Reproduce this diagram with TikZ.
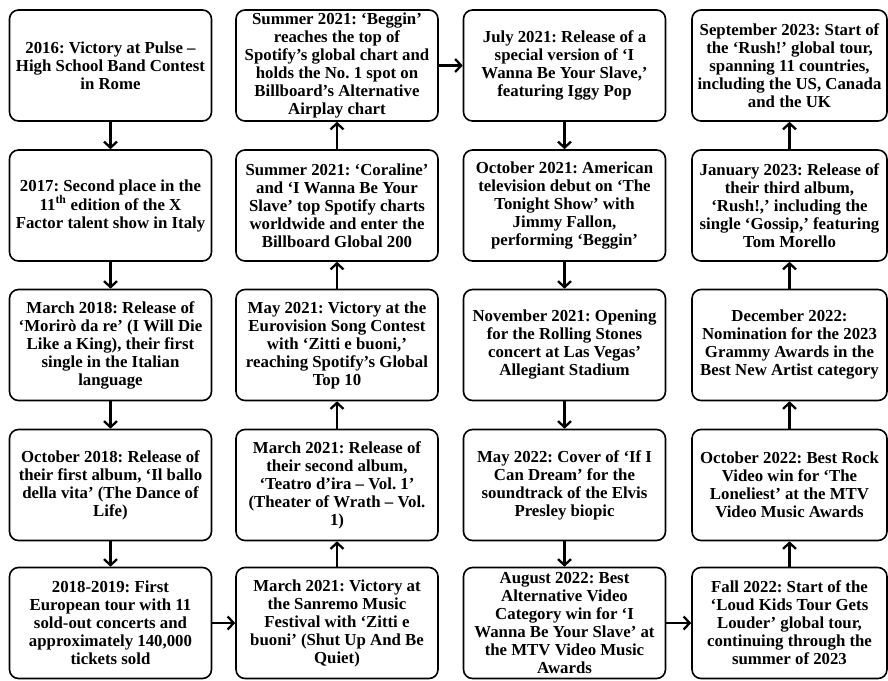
\documentclass[tikz,border=0pt]{standalone}
\usepackage{fontspec}
\setmainfont{Liberation Serif}
\usetikzlibrary{arrows.meta}
\frenchspacing

\begin{document}
\begin{tikzpicture}[x=1pt, y=-1pt, >={Straight Barb[length=6pt,width=13pt]}]
\useasboundingbox (0,0) rectangle (888,680);
\begin{scope}[every node/.style={draw, rounded corners=9pt, line width=1.6pt,
    minimum width=202pt, minimum height=111pt, inner sep=1pt, align=center,
    font=\bfseries\fontsize{16.8}{18}\selectfont}]
    % first column, going down
    \node (1) at (110.5,65.5) {2016: Victory at Pulse --\\High School Band Contest\\in Rome};
    \node (2) at (110.5,205.5) {2017: Second place in the\\11\textsuperscript{th} edition of the X\\Factor talent show in Italy};
    \node (3) at (110.5,345) {March 2018: Release of\\‘Morirò da re’ (I Will Die\\Like a King), their first\\single in the Italian\\language};
    \node (4) at (110.5,485) {October 2018: Release of\\their first album, ‘Il ballo\\della vita’ (The Dance of\\Life)};
    \node (5) at (110.5,623) {2018-2019: First\\European tour with 11\\sold-out concerts and\\approximately 140,000\\tickets sold};
    % second column, going up
    \node (6) at (337,623) {March 2021: Victory at\\the Sanremo Music\\Festival with ‘Zitti e\\buoni’ (Shut Up And Be\\Quiet)};
    \node (7) at (337,485) {March 2021: Release of\\their second album,\\‘Teatro d’ira -- Vol. 1’\\(Theater of Wrath -- Vol.\\1)};
    \node (8) at (337,345) {May 2021: Victory at the\\Eurovision Song Contest\\with ‘Zitti e buoni,’\\reaching Spotify’s Global\\Top 10};
    \node (9) at (337,205.5) {Summer 2021: ‘Coraline’\\and ‘I Wanna Be Your\\Slave’ top Spotify charts\\worldwide and enter the\\Billboard Global 200};
    \node (10) at (337,65.5) {Summer 2021: ‘Beggin’\\reaches the top of\\Spotify’s global chart and\\holds the No. 1 spot on\\Billboard’s Alternative\\Airplay chart};
    % third column, going down
    \node (11) at (564.5,65.5) {July 2021: Release of a\\special version of ‘I\\Wanna Be Your Slave,’\\featuring Iggy Pop};
    \node (12) at (564.5,205.5) {October 2021: American\\television debut on ‘The\\Tonight Show’ with\\Jimmy Fallon,\\performing ‘Beggin’};
    \node (13) at (564.5,345) {November 2021: Opening\\for the Rolling Stones\\concert at Las Vegas’\\Allegiant Stadium};
    \node (14) at (564.5,485) {May 2022: Cover of ‘If I\\Can Dream’ for the\\soundtrack of the Elvis\\Presley biopic};
    \node (15) at (564.5,623) {August 2022: Best\\Alternative Video\\Category win for ‘I\\Wanna Be Your Slave’ at\\the MTV Video Music\\Awards};
    % fourth column, going up
    \begin{scope}[every node/.append style={minimum width=195pt}]
    \node (16) at (789.5,623) {Fall 2022: Start of the\\‘Loud Kids Tour Gets\\Louder’ global tour,\\continuing through the\\summer of 2023};
    \node (17) at (789.5,485) {October 2022: Best Rock\\Video win for ‘The\\Loneliest’ at the MTV\\Video Music Awards};
    \node (18) at (789.5,345) {December 2022:\\Nomination for the 2023\\Grammy Awards in the\\Best New Artist category};
    \node (19) at (789.5,205.5) {January 2023: Release of\\their third album,\\‘Rush!,’ including the\\single ‘Gossip,’ featuring\\Tom Morello};
    \node (20) at (789.5,65.5) {September 2023: Start of\\the ‘Rush!’ global tour,\\spanning 11 countries,\\including the US, Canada\\and the UK};
    \end{scope}
\end{scope}

\begin{scope}[line width=2.3pt]
\draw[->] (1) -- (2);
\draw[->] (2) -- (3);
\draw[->] (3) -- (4);
\draw[->] (4) -- (5);
\draw[->] (5) -- (6);
\draw[->] (6) -- (7);
\draw[->] (7) -- (8);
\draw[->] (8) -- (9);
\draw[->] (9) -- (10);
\draw[->] (10) -- (11);
\draw[->] (11) -- (12);
\draw[->] (12) -- (13);
\draw[->] (13) -- (14);
\draw[->] (14) -- (15);
\draw[->] (15) -- (16);
\draw[->] (16) -- (17);
\draw[->] (17) -- (18);
\draw[->] (18) -- (19);
\draw[->] (19) -- (20);
\end{scope}
\end{tikzpicture}
\end{document}
